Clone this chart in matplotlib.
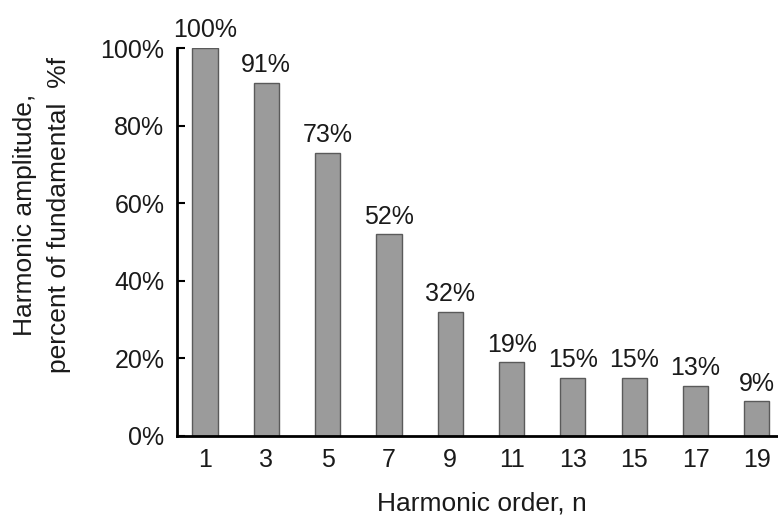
import matplotlib.pyplot as plt

# Datos del grafico
orden = [1, 3, 5, 7, 9, 11, 13, 15, 17, 19]
amplitud = [100, 91, 73, 52, 32, 19, 15, 15, 13, 9]
etiquetas_y = ['0%', '20%', '40%', '60%', '80%', '100%']
valores_y = [0, 20, 40, 60, 80, 100]

plt.rcParams['font.family'] = ['Liberation Sans', 'DejaVu Sans']

fig = plt.figure(figsize=(7.78, 5.22), dpi=100)
ax = fig.add_axes([0.2275, 0.1648, 0.7725, 0.7432])

ax.bar(orden, amplitud, width=0.82, color='#9b9b9b', edgecolor='#5a5a5a', linewidth=1)

for x, v in zip(orden, amplitud):
    ax.annotate(f"{v}%", (x, v), xytext=(0, 4), textcoords='offset points',
                ha='center', va='bottom', fontsize=18, color='#1a1a1a')

ax.set_xlim(0.087, 19.69)
ax.set_ylim(0, 100)
ax.set_xticks(orden)
ax.set_xticklabels([str(o) for o in orden])
ax.set_yticks(valores_y)
ax.set_yticklabels(etiquetas_y)

ax.tick_params(axis='x', length=0, pad=9, labelsize=18, labelcolor='#1a1a1a')
ax.tick_params(axis='y', direction='in', length=6, width=1.5, pad=9, labelsize=18,
               labelcolor='#1a1a1a')

for s in ['top', 'right']:
    ax.spines[s].set_visible(False)
for s in ['left', 'bottom']:
    ax.spines[s].set_linewidth(2)
ax.patch.set_visible(False)

fig.text(482 / 778, 1 - 504 / 522, "Harmonic order, n", fontsize=19,
         ha='center', va='center', color='#1a1a1a')
fig.text(42 / 778, 1 - 215 / 522, "Harmonic amplitude,\npercent of fundamental  %f",
         fontsize=19, rotation=90, ha='center', va='center', linespacing=1.5,
         color='#1a1a1a')

fig.savefig("out.png", dpi=100)
